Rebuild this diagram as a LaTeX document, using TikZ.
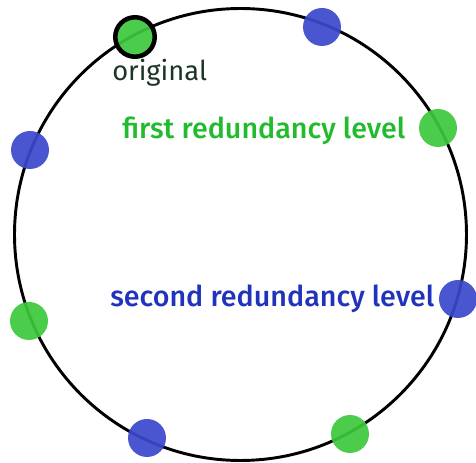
\documentclass[tikz,border=0pt]{standalone}
\usepackage{fontspec}
\setmainfont{Fira Sans}
\newfontfamily\labfont{Fira Sans Medium}
\definecolor{ringline}{HTML}{000000}
\definecolor{dotgreen}{HTML}{3CC83C}
\definecolor{dotblue}{HTML}{3A48CC}
\definecolor{txtgreen}{HTML}{22BB2E}
\definecolor{txtblue}{HTML}{2233BB}
\definecolor{txtdark}{HTML}{1B3526}
\tikzset{
  gdot/.style={circle, fill=dotgreen, fill opacity=0.92, inner sep=0pt, minimum size=28.5pt},
  bdot/.style={circle, fill=dotblue, fill opacity=0.92, inner sep=0pt, minimum size=28.5pt},
  lab/.style={anchor=base west, inner sep=0pt, font=\labfont\fontsize{21.5}{26}\selectfont},
}
\begin{document}
\begin{tikzpicture}[x=0.75pt, y=-0.75pt]
  \useasboundingbox (0,0) rectangle (476,463);
  % the ring
  \node[circle, draw=ringline, line width=2.2pt, minimum size=339pt, inner sep=0pt] (ring) at (240.5,234.5) {};
  % redundancy dots
  \node[gdot, draw=black, draw opacity=1, line width=3.4pt, minimum size=29.6pt] (orig) at (135,37) {};
  \node[bdot] (b1) at (322,27) {};
  \node[gdot] (g1) at (438,128) {};
  \node[bdot] (b2) at (458,299) {};
  \node[gdot] (g2) at (350,434) {};
  \node[bdot] (b3) at (147,438) {};
  \node[gdot] (g3) at (29,321) {};
  \node[bdot] (b4) at (30,150) {};
  % labels
  \node[lab, font=\rmfamily\fontsize{20.5}{24}\selectfont, text=txtdark] (torig) at (112,81) {original};
  \node[lab, text=txtgreen] (tfirst) at (122,138.5) {first redundancy level};
  \node[lab, text=txtblue] (tsecond) at (110,306.5) {second redundancy level};
\end{tikzpicture}
\end{document}
